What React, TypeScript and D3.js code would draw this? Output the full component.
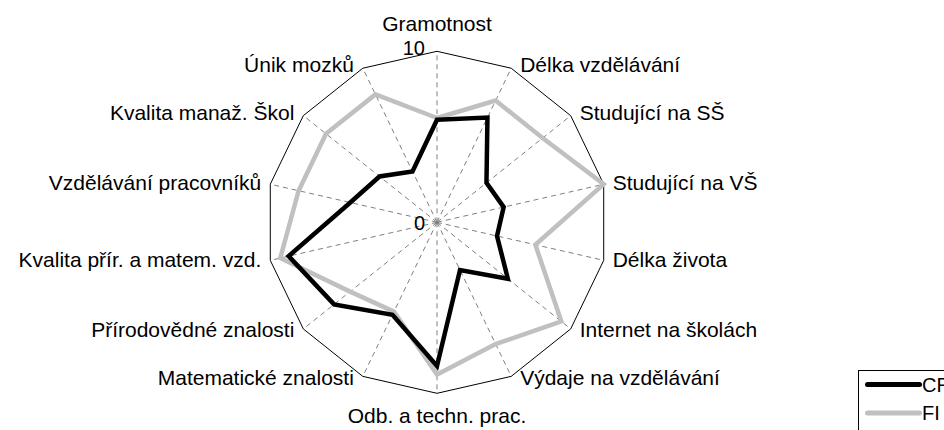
import * as d3 from 'd3';

// axes of the radar, clockwise from top
const categories = [
  'Gramotnost',
  'Délka vzdělávání',
  'Studující na SŠ',
  'Studující na VŠ',
  'Délka života',
  'Internet na školách',
  'Výdaje na vzdělávání',
  'Odb. a techn. prac.',
  'Matematické znalosti',
  'Přírodovědné znalosti',
  'Kvalita přír. a matem. vzd.',
  'Vzdělávání pracovníků',
  'Kvalita manaž. Škol',
  'Únik mozků',
];
const cr = [6.0, 6.8, 3.7, 4.0, 3.6, 5.3, 3.1, 8.4, 6.0, 7.7, 8.9, 5.2, 4.3, 3.3];
const fi = [6.1, 7.9, 7.9, 10, 5.9, 9.3, 7.9, 8.9, 5.8, 6.5, 9.4, 8.3, 8.3, 8.3];
const seriesNames = ['CR', 'FI'];
const tickLabels = ['0', '10'];

const W = 944;
const H = 430;
const cx = 437;
const cy = 222.3;
const R = 171;
const FONT = 'Liberation Sans, Arial, sans-serif';

export default function App() {
  const n = categories.length;
  const r = d3.scaleLinear().domain([0, 10]).range([0, R]);
  const angle = (i: number) => (i * 2 * Math.PI) / n;

  const radial = d3
    .lineRadial<number>()
    .angle((_, i) => angle(i))
    .radius((d) => r(d))
    .curve(d3.curveLinearClosed);

  const outer = radial(categories.map(() => 10)) as string;

  const series = [
    { name: seriesNames[1], values: fi, color: '#c0c0c0' },
    { name: seriesNames[0], values: cr, color: '#000000' },
  ];

  return (
    <svg
      width={W}
      height={H}
      style={{ position: 'absolute', left: 0, top: 0, background: '#fff' }}
      fontFamily={FONT}
    >
      <g transform={`translate(${cx},${cy})`}>
        {/* dashed spokes */}
        {categories.map((c, i) => (
          <line
            key={c}
            x1={0}
            y1={0}
            x2={r(10) * Math.sin(angle(i))}
            y2={-r(10) * Math.cos(angle(i))}
            stroke="#808080"
            strokeWidth={1}
            strokeDasharray="5,4"
          />
        ))}
        <path d={outer} fill="none" stroke="#000" strokeWidth={1} />
        {series.map((s) => (
          <path
            key={s.name}
            d={radial(s.values) as string}
            fill="none"
            stroke={s.color}
            strokeWidth={4.5}
            strokeLinejoin="miter"
          />
        ))}
        {/* tick labels on top spoke */}
        <text x={-12} y={r(0) + 7.5} textAnchor="end" fontSize={20}>
          {tickLabels[0]}
        </text>
        <text x={-12} y={-r(10) + 4} textAnchor="end" fontSize={20}>
          {tickLabels[1]}
        </text>
        {/* category labels */}
        {categories.map((c, i) => {
          const a = angle(i);
          const s = Math.sin(a);
          const co = Math.cos(a);
          const vx = r(10) * s;
          const vy = -r(10) * co;
          let x = vx;
          let y = vy + 6 - 3 * co;
          let anchor = 'middle';
          if (i === 0) {
            y = vy - 20;
          } else if (Math.abs(s) < 1e-6) {
            y = vy + 30;
          } else if (s > 0) {
            x = vx + 9;
            anchor = 'start';
          } else {
            x = vx - 9;
            anchor = 'end';
          }
          return (
            <text key={c} x={x} y={y} textAnchor={anchor} fontSize={21}>
              {c}
            </text>
          );
        })}
      </g>
      {/* legend */}
      <g transform="translate(858.5,370.5)">
        <rect x={0} y={0} width={120} height={80} fill="#fff" stroke="#000" strokeWidth={1} />
        {[seriesNames[0], seriesNames[1]].map((name, i) => (
          <g key={name} transform={`translate(0,${14 + i * 28.4})`}>
            <line
              x1={9}
              x2={61}
              y1={0}
              y2={0}
              stroke={i === 0 ? '#000' : '#c0c0c0'}
              strokeWidth={5}
              strokeLinecap="round"
            />
            <text x={63.5} y={7} fontSize={20}>
              {name}
            </text>
          </g>
        ))}
      </g>
    </svg>
  );
}
